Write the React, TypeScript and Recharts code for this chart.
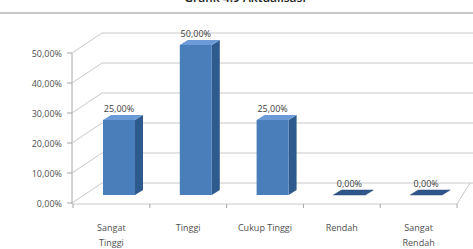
import { Bar, BarChart, CartesianGrid, LabelList, XAxis, YAxis } from 'recharts'

const CATEGORIES = ['Sangat Tinggi', 'Tinggi', 'Cukup Tinggi', 'Rendah', 'Sangat Rendah']
const VALUES = [0.25, 0.5, 0.25, 0, 0]
const Y_TICKS = [0, 0.1, 0.2, 0.3, 0.4, 0.5]
const TITLE = 'Grafik 4.9 Aktualisasi'

const data = CATEGORIES.map((name, i) => ({ name, value: VALUES[i] }))

const FONT = '"Open Sans", sans-serif'
const pct = (v: number) => `${(v * 100).toFixed(2).replace('.', ',')}%`

// 3d look: front face shifted right, side + top faces going back
const DX = 8
const DEPTH_X = 8
const DEPTH_Y = 5

function Bar3D(props: any) {
  const { x, y, width, height } = props
  const fx = x + DX
  const top = `M${fx},${y} L${fx + width},${y} L${fx + width + DEPTH_X},${y - DEPTH_Y} L${fx + DEPTH_X},${y - DEPTH_Y} Z`
  if (!height || height < 0.5) {
    return <path d={top} fill="#2f5588" stroke="#2a4c7a" strokeWidth={0.5} />
  }
  const side = `M${fx + width},${y} L${fx + width + DEPTH_X},${y - DEPTH_Y} L${fx + width + DEPTH_X},${y + height - DEPTH_Y} L${fx + width},${y + height} Z`
  return (
    <g>
      <path d={side} fill="#2e5a8e" />
      <rect x={fx} y={y} width={width} height={height} fill="#4a7ebb" />
      <path d={top} fill="#6b9ad6" />
    </g>
  )
}

function BarLabel(props: any) {
  const { x, y, width, value } = props
  return (
    <text x={x + DX + width / 2} y={y - 12} textAnchor="middle" dominantBaseline="central"
      fontSize={9} fontFamily={FONT} fill="#404040">{pct(value)}</text>
  )
}

function GridLine(props: any) {
  const { x1, x2, y1, y, height, key } = props
  const bottom = Math.abs(y1 - (y + height)) < 0.5
  const front = y1 + 8
  const back = y1 - 12
  const axisX = x1 - 1
  return (
    <g key={key}>
      <line x1={axisX} y1={front} x2={axisX + 30} y2={back} stroke="#c8c8c8" />
      <line x1={axisX + 30} y1={back} x2={473} y2={back} stroke="#c8c8c8" />
      {bottom && (
        <g>
          <line x1={axisX} y1={y + 8} x2={axisX} y2={y1 + 9} stroke="#a6a6a6" />
          <line x1={axisX} y1={front + 1} x2={x2} y2={front + 1} stroke="#c8c8c8" />
          <line x1={x2} y1={front + 1} x2={x2 + 13} y2={back} stroke="#c8c8c8" />
          {[0, 1, 2, 3, 4, 5].map((i) => {
            const tx = x1 + ((x2 - x1) * i) / 5
            return <line key={i} x1={tx} y1={front + 1} x2={tx} y2={front + 5} stroke="#a6a6a6" />
          })}
        </g>
      )}
    </g>
  )
}

function YTick(props: any) {
  const { y, payload } = props
  const ty = y + 8
  return (
    <g>
      <line x1={67} y1={ty} x2={72} y2={ty} stroke="#a6a6a6" />
      <text x={62} y={ty} textAnchor="end" dominantBaseline="central" fontSize={9} fontFamily={FONT} fill="#505050">
        {pct(payload.value)}
      </text>
    </g>
  )
}

function XTick(props: any) {
  const { x, y, payload } = props
  const label: string = payload.value
  const lines = label.startsWith('Sangat ') ? label.split(' ') : [label]
  return (
    <text x={x} y={y + 32} textAnchor="middle" fontSize={9} fontFamily={FONT} fill="#505050">
      {lines.map((l, i) => (
        <tspan key={i} x={x} dy={i === 0 ? 0 : 15} dominantBaseline="central">{l}</tspan>
      ))}
    </text>
  )
}

export default function App() {
  return (
    <div style={{ position: 'absolute', left: 0, top: 0, width: 473, height: 249, background: '#fff', overflow: 'hidden' }}>
      <div style={{
        position: 'absolute', left: 0, top: -9, width: 490, textAlign: 'center', fontFamily: FONT,
        fontSize: 12, fontWeight: 600, color: '#222', lineHeight: '14px',
      }}>{TITLE}</div>
      <div style={{ position: 'absolute', left: 0, top: 12, width: 473, height: 1.5, background: '#c8c8c8' }} />
      <BarChart width={473} height={249} data={data} margin={{ top: 45, right: 16, bottom: 14, left: 0 }}
        barSize={32} style={{ position: 'absolute', left: 0, top: 0 }}>
        <CartesianGrid vertical={false} horizontal={(p: any) => <GridLine {...p} />} />
        <XAxis dataKey="name" axisLine={false} tickLine={false} tickSize={0} tickMargin={0} height={40}
          interval={0} tick={<XTick />} />
        <YAxis domain={[0, 0.5]} ticks={Y_TICKS} width={73} axisLine={false} tickLine={false} tick={<YTick />} />
        <Bar dataKey="value" shape={<Bar3D />} isAnimationActive={false}>
          <LabelList dataKey="value" content={<BarLabel />} />
        </Bar>
      </BarChart>
    </div>
  )
}
